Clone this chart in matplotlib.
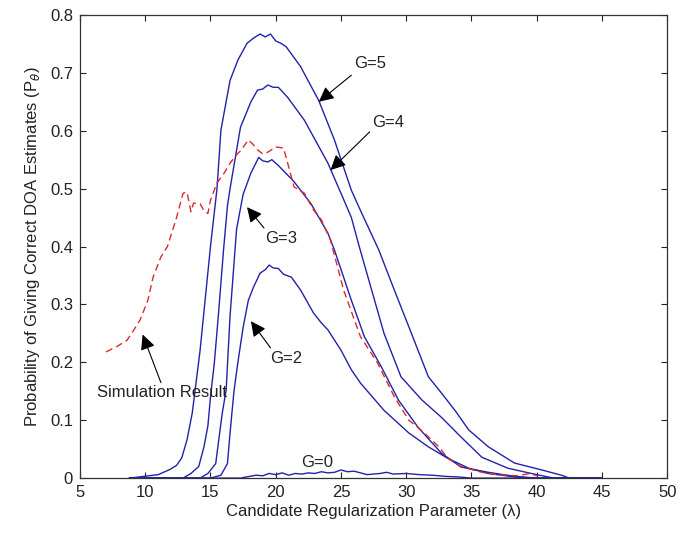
import matplotlib
matplotlib.use("Agg")
import matplotlib.pyplot as plt

plt.rcParams['font.family'] = ['Liberation Sans', 'DejaVu Sans']

# ---- data ----
x_g5 = [8.8, 11.0, 11.9, 12.4, 12.8, 13.2, 13.6, 14.2, 14.6, 15.0, 15.5, 15.8, 16.5, 17.1, 17.8, 18.3,
        18.8, 19.2, 19.6, 20.0, 20.4, 20.8, 21.9, 23.3, 24.5, 25.8, 26.5, 27.9, 29.0, 30.4, 31.7,
        32.7, 33.8, 34.8, 36.3, 38.3, 40.4, 41.9, 42.5, 45.0]
y_g5 = [0.0, 0.006, 0.015, 0.022, 0.035, 0.066, 0.112, 0.22, 0.31, 0.40, 0.50, 0.601, 0.687, 0.722,
        0.751, 0.760, 0.767, 0.762, 0.767, 0.755, 0.751, 0.745, 0.711, 0.652, 0.584, 0.497, 0.462,
        0.394, 0.33, 0.25, 0.175, 0.147, 0.115, 0.083, 0.054, 0.026, 0.014, 0.005, 0.0, 0.0]

x_g4 = [8.8, 12.9, 13.5, 14.1, 14.5, 14.8, 15.0, 15.3, 15.6, 16.0, 16.3, 16.5, 17.3, 18.1, 18.6, 19.0,
        19.4, 19.8, 20.2, 20.9, 22.2, 24.0, 25.0, 25.8, 26.4, 28.3, 29.6, 31.2, 32.7, 34.2, 35.8,
        37.8, 39.8, 41.3, 45.0]
y_g4 = [0.0, 0.0, 0.008, 0.02, 0.054, 0.09, 0.14, 0.20, 0.28, 0.394, 0.47, 0.50, 0.606, 0.650,
        0.670, 0.672, 0.679, 0.675, 0.675, 0.658, 0.618, 0.544, 0.492, 0.45, 0.40, 0.25, 0.175,
        0.135, 0.105, 0.071, 0.036, 0.017, 0.007, 0.0, 0.0]

x_g3 = [8.8, 14.2, 14.8, 15.4, 15.6, 15.9, 16.2, 16.5, 16.9, 17.0, 17.5, 18.1, 18.7, 19.0, 19.4, 19.7,
        20.2, 21.4, 22.7, 24.0, 24.5, 25.8, 26.8, 28.1, 29.4, 30.9, 32.7, 34.2, 36.3, 38.3, 40.0, 45.0]
y_g3 = [0.0, 0.0, 0.008, 0.025, 0.06, 0.112, 0.152, 0.28, 0.40, 0.43, 0.49, 0.527, 0.554, 0.548,
        0.546, 0.550, 0.540, 0.512, 0.474, 0.423, 0.394, 0.307, 0.244, 0.192, 0.135, 0.088, 0.043,
        0.019, 0.010, 0.003, 0.0, 0.0]

x_g2 = [8.8, 15.0, 15.8, 16.3, 16.5, 16.8, 17.1, 17.5, 17.9, 18.3, 18.8, 19.2, 19.5, 19.8, 20.2,
        20.6, 21.2, 21.9, 22.9, 23.5, 24.0, 25.0, 25.8, 26.5, 28.3, 30.2, 31.7, 33.2, 34.8, 36.3,
        38.3, 40.0, 45.0]
y_g2 = [0.0, 0.0, 0.005, 0.025, 0.078, 0.15, 0.20, 0.26, 0.307, 0.33, 0.354, 0.360, 0.368, 0.363,
        0.362, 0.352, 0.347, 0.325, 0.285, 0.268, 0.256, 0.221, 0.187, 0.164, 0.117, 0.078, 0.054,
        0.034, 0.017, 0.008, 0.002, 0.0, 0.0]

x_g0 = [8.8, 17.3, 18.0, 18.5, 19.0, 19.5, 20.0, 20.5, 21.0, 21.5, 22.0, 22.5, 23.0, 23.5, 24.0,
        24.5, 25.0, 25.5, 26.0, 27.0, 28.0, 28.5, 29.0, 30.0, 31.0, 32.0, 33.0, 34.0, 35.0, 45.0]
y_g0 = [0.0, 0.0, 0.003, 0.005, 0.004, 0.008, 0.006, 0.009, 0.005, 0.008, 0.007, 0.009, 0.008,
        0.011, 0.009, 0.010, 0.014, 0.011, 0.012, 0.006, 0.008, 0.010, 0.007, 0.008, 0.006, 0.005,
        0.003, 0.002, 0.0, 0.0]

x_sim = [7.0, 7.8, 8.6, 9.1, 9.6, 10.2, 10.6, 11.2, 11.7, 12.4, 12.9, 13.2, 13.5, 13.7, 14.2, 14.5,
         14.8, 15.0, 15.5, 16.0, 16.5, 17.1, 17.3, 17.9, 18.2, 18.6, 19.0, 19.4, 20.0, 20.6, 21.0,
         21.4, 22.2, 22.9, 23.5, 24.2, 25.2, 26.5, 27.8, 29.1, 30.2, 31.4, 32.5, 33.2, 34.2, 35.8,
         37.0, 38.5, 39.5, 40.0]
y_sim = [0.218, 0.227, 0.238, 0.255, 0.273, 0.307, 0.347, 0.382, 0.40, 0.45, 0.492, 0.494, 0.46,
         0.475, 0.474, 0.462, 0.457, 0.48, 0.51, 0.525, 0.544, 0.561, 0.565, 0.584, 0.578, 0.567,
         0.560, 0.563, 0.572, 0.57, 0.537, 0.503, 0.492, 0.463, 0.446, 0.411, 0.325, 0.244, 0.199,
         0.14, 0.10, 0.078, 0.054, 0.034, 0.02, 0.01, 0.006, 0.004, 0.008, 0.004]

x_ticks = [5, 10, 15, 20, 25, 30, 35, 40, 45, 50]
y_ticks = [0, 0.1, 0.2, 0.3, 0.4, 0.5, 0.6, 0.7, 0.8]
y_tick_labels = ['0', '0.1', '0.2', '0.3', '0.4', '0.5', '0.6', '0.7', '0.8']

# annotations: (text, text position, arrow tail, arrow tip)
notes = [
    ('G=5', (27.2, 0.716), (25.8, 0.696), (23.3, 0.650)),
    ('G=4', (28.6, 0.615), (27.2, 0.598), (24.2, 0.532)),
    ('G=3', (20.4, 0.414), (19.1, 0.432), (17.8, 0.468)),
    ('G=2', (20.8, 0.207), (19.6, 0.225), (18.1, 0.271)),
    ('Simulation Result', (11.3, 0.147), (11.2, 0.165), (9.8, 0.248)),
]

blue = '#2222aa'
red = '#e02828'

fig = plt.figure(figsize=(6.78, 5.33), dpi=100)
ax = fig.add_axes([0.118, 0.103, 0.866, 0.869])

for xs, ys in [(x_g5, y_g5), (x_g4, y_g4), (x_g3, y_g3), (x_g2, y_g2), (x_g0, y_g0)]:
    ax.plot(xs, ys, color=blue, lw=1.0)
ax.plot(x_sim, y_sim, color=red, lw=1.0, linestyle=(0, (5, 3)))

for txt, tpos, tail, tip in notes:
    ax.text(tpos[0], tpos[1], txt, ha='center', va='center', fontsize=12, color='#222222')
    ax.annotate('', xy=tip, xytext=tail,
                arrowprops=dict(arrowstyle='-|>,head_length=0.65,head_width=0.32',
                                mutation_scale=14, color='black', lw=0.8,
                                shrinkA=0, shrinkB=0))
ax.text(23.2, 0.027, 'G=0', ha='center', va='center', fontsize=12, color='#222222')

ax.set_xlim(5, 50)
ax.set_ylim(0, 0.8)
ax.set_xticks(x_ticks)
ax.set_yticks(y_ticks)
ax.set_yticklabels(y_tick_labels)
ax.tick_params(direction='in', top=True, right=True, length=4, width=0.8,
               labelsize=12, colors='#222222', pad=5)
for s in ax.spines.values():
    s.set_color('#333333')
    s.set_linewidth(0.9)

ax.set_xlabel('Candidate Regularization Parameter (λ)', fontsize=12, color='#222222', labelpad=3)
ax.set_ylabel(r'Probability of Giving Correct DOA Estimates (P$_\theta$)', fontsize=12,
              color='#222222', labelpad=6)

fig.savefig('out.png', dpi=100)
